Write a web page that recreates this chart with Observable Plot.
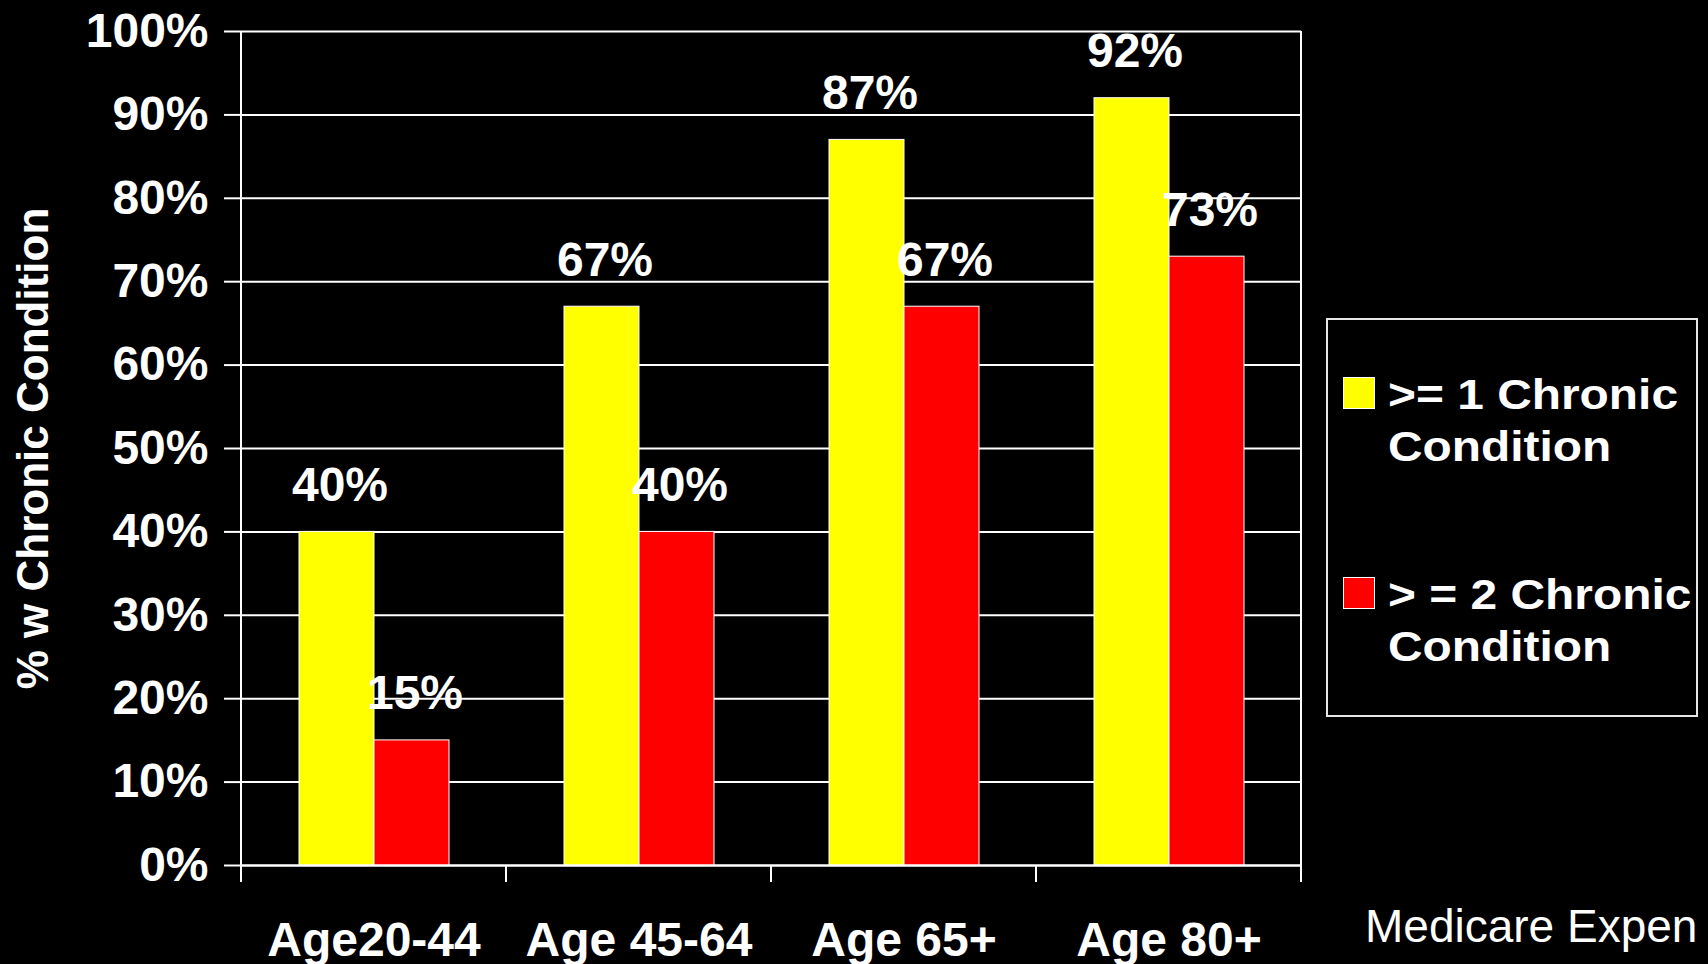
<!DOCTYPE html>
<html><head><meta charset="utf-8">
<script src="https://cdn.jsdelivr.net/npm/d3@7"></script>
<script src="https://cdn.jsdelivr.net/npm/@observablehq/plot@0.6"></script>
<style>
html,body{margin:0;padding:0;background:#000;}
body{width:1708px;height:964px;position:relative;overflow:hidden;font-family:"Liberation Sans",Arial,sans-serif;color:#fff;}
#chart{position:absolute;left:0;top:0;}
#chart svg g[aria-label="y-axis label"] text{font-size:44px;}
.legend{position:absolute;left:1326px;top:318px;width:372px;height:399px;box-sizing:border-box;border:2px solid #e6e6e6;}
.legend .sw{position:absolute;width:30px;height:30px;border:1px solid #fff;}
.legend .lab{position:absolute;width:290px;font-size:42px;line-height:52px;font-weight:bold;transform:scaleX(1.14);transform-origin:0 0;white-space:normal;}
.note{position:absolute;left:1365px;top:0;font-size:46px;line-height:46px;white-space:nowrap;}
</style>
</head><body>
<div id="chart"></div>
<div class="legend" id="legend"></div>
<div class="note" id="note"></div>
<script>
const categories = ["Age20-44", "Age 45-64", "Age 65+", "Age 80+"];
const seriesNames = [">= 1 Chronic Condition", "> = 2 Chronic Condition"];
const seriesColors = ["#ffff00", "#ff0000"];
const oneOrMore = [40, 67, 87, 92];
const twoOrMore = [15, 40, 67, 73];
const yTicks = [0, 10, 20, 30, 40, 50, 60, 70, 80, 90, 100];
const yTitle = "% w Chronic Condition";
const noteText = "Medicare Expen";

const seriesValues = [oneOrMore, twoOrMore];
const data = categories.flatMap((c, i) => seriesNames.map((s, j) => ({age: c, series: s, value: seriesValues[j][i]})));

const chart = Plot.plot({
  width: 1708, height: 964,
  marginLeft: 240, marginRight: 406, marginTop: 31, marginBottom: 99,
  style: {background: "transparent", color: "#fff", fontFamily: "'Liberation Sans', Arial, sans-serif", overflow: "visible"},
  fx: {domain: categories, padding: 0, label: null},
  x: {domain: seriesNames, paddingInner: 0, paddingOuter: 0.758, axis: null},
  y: {domain: [0, 100]},
  color: {domain: seriesNames, range: seriesColors},
  marks: [
    Plot.gridY(yTicks, {stroke: "#fff", strokeOpacity: 1, strokeWidth: 2}),
    Plot.barY(data, {fx: "age", x: "series", y: "value", fill: "series", stroke: "#fff", strokeWidth: 1}),
    Plot.ruleY([0], {stroke: "#fff", strokeWidth: 2}),
    Plot.text(data, {fx: "age", x: "series", y: "value", text: d => d.value + "%", lineAnchor: "bottom", dy: -31, dx: 3, fill: "#fff", fontSize: 48, fontWeight: "bold"}),
    Plot.axisY(yTicks, {tickSize: 17, tickPadding: 16, strokeWidth: 2, tickFormat: d => d + "%", fontSize: 48, fontWeight: "bold", label: yTitle, labelArrow: "none", labelAnchor: "center", labelOffset: 225}),
    Plot.axisFx({anchor: "bottom", tickSize: 0, tickPadding: 56, fontSize: 48, fontWeight: "bold", label: null})
  ]
});
document.getElementById("chart").appendChild(chart);

// boundary lines and ticks, placed through the plot's own scales
const fx = chart.scale("fx"), y = chart.scale("y");
const svg = d3.select(chart);
const y0 = y.apply(0), yTop = y.apply(100), tickLen = 17;
const edges = categories.map(c => fx.apply(c)).concat([fx.apply(categories[categories.length - 1]) + fx.bandwidth]);
svg.append("g").attr("stroke", "#fff").attr("stroke-width", 2)
  .selectAll("line").data(edges).join("line")
  .attr("x1", d => d).attr("x2", d => d)
  .attr("y1", (d, i) => (i === 0 || i === edges.length - 1) ? yTop : y0)
  .attr("y2", y0 + tickLen);

// strip any arrow left on the axis title
svg.selectAll('g[aria-label="y-axis label"] text').text(yTitle);

// legend
const legend = d3.select("#legend");
seriesNames.forEach((s, i) => {
  legend.append("div").attr("class", "sw").style("left", "15px").style("top", (57 + i * 200) + "px").style("background", seriesColors[i]);
  legend.append("div").attr("class", "lab").style("left", "60px").style("top", (49 + i * 200) + "px").text(s);
});
const note = document.getElementById("note");
note.textContent = noteText;
note.style.top = (945 - 0.905 * 46) + "px";
</script>
</body></html>
